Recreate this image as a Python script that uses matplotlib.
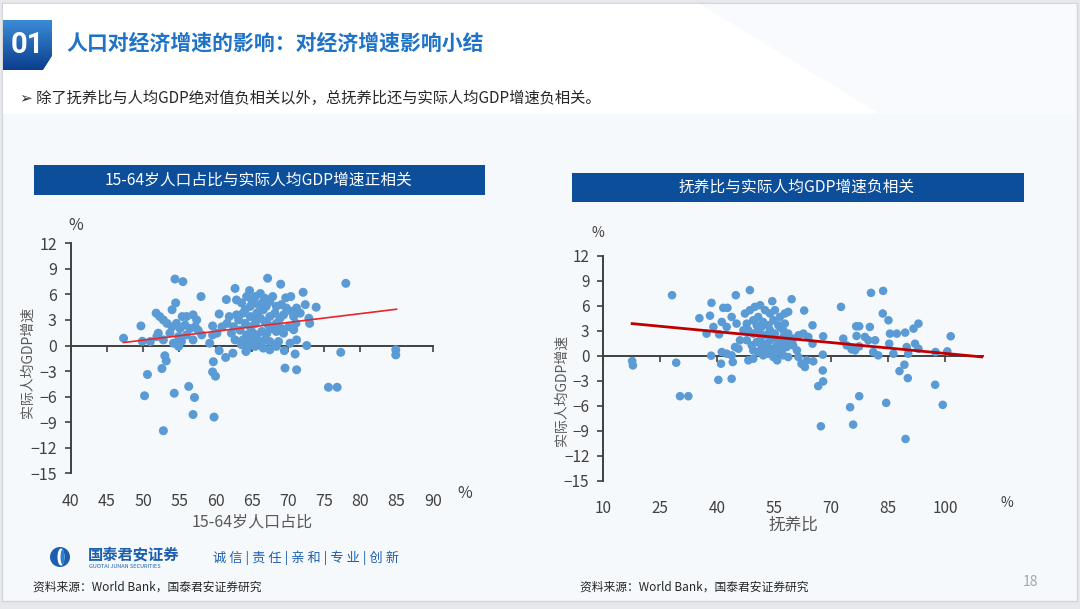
import numpy as np
import matplotlib
matplotlib.use("Agg")
import matplotlib.pyplot as plt
from matplotlib.patches import Rectangle, Polygon, Circle, Ellipse

plt.rcParams['font.family'] = ['Noto Sans CJK SC', 'DejaVu Sans']

# ---- data: 15-64 share of population (%) vs real GDP per capita growth (%)
work_share = [47.3, 49.7, 49.9, 50.6, 50.2, 51.8, 52.1, 52.6, 52.8, 53.0, 53.2, 54.0,
              54.4, 55.5, 54.5, 54.3, 55.4, 56.9, 56.3, 57.1, 56.9, 58.0, 59.7, 59.6,
              60.0, 59.8, 59.6, 60.5, 60.5, 61.4, 62.4, 62.7, 61.5, 64.7, 67.2, 69.0,
              72.1, 72.4, 73.9, 70.4, 69.7, 72.6, 71.0, 69.5, 69.6, 71.2, 77.3, 78.0,
              75.6, 76.8, 84.9, 84.9, 73.0, 72.9, 71.1,
              52.3, 52.8, 53.3, 54.0, 54.6, 55.1, 55.8, 56.5, 57.2, 57.6, 53.7, 54.9,
              56.0, 56.9, 54.2, 55.3, 54.9, 51.9, 52.8, 51.0, 57.4, 56.0, 58.1, 59.2,
              59.6, 60.2, 60.9, 61.6,
              62.9, 63.6, 64.1, 64.8, 65.5, 66.2, 66.8, 67.5, 68.4, 69.1, 69.8, 70.5,
              71.2, 71.7, 70.8, 69.4, 68.2, 66.6, 65.7, 64.8, 63.8, 63.2, 62.5, 62.2,
              62.7, 63.4, 64.1, 64.8, 65.5, 66.2, 66.8, 67.5, 68.4, 69.1, 70.1, 69.4,
              68.4, 67.8, 67.1, 66.4, 65.7, 65.0, 64.3, 63.8, 64.5, 65.2, 66.1, 66.8,
              67.5, 68.7, 64.3, 65.5, 66.6, 67.5, 68.4, 63.6, 64.8, 65.9, 67.0, 67.9,
              65.0, 64.3, 66.6, 65.5, 67.3, 68.9, 70.8, 71.2, 70.3, 62.9, 61.9, 64.2]
growth_l = [0.86, 2.3, 0.5, -3.4, -5.9, 3.8, 1.45, -2.7, -10.0, -1.2, -1.8, 4.2,
            7.8, 7.5, 5.0, -5.6, 3.4, 3.6, -4.8, -6.1, -8.1, 5.75, -1.9, -3.1,
            -3.6, -8.4, 2.3, 3.7, -0.6, -1.4, -0.9, 6.7, 5.4, 6.45, 7.9, 7.2,
            6.25, 4.8, 4.5, 5.75, 5.6, 0.0, -1.0, -0.6, -2.65, -2.85, -0.8, 7.3,
            -4.9, -4.9, -0.5, -1.1, 2.6, 3.2, 2.6,
            3.4, 3.0, 2.6, 2.2, 2.6, 2.0, 2.4, 2.0, 2.2, 1.8, 1.45, 1.05,
            1.25, 0.66, 0.27, 0.47, -0.1, 1.05, 0.66, 0.47, 3.0, 3.4, 1.25, 0.27,
            1.25, 1.45, 2.2, 2.6,
            5.35, 5.0, 4.2, 4.6, 5.75, 6.1, 5.55, 5.15, 4.6, 4.8, 4.4, 4.0,
            4.4, 3.8, 3.4, 3.6, 3.8, 4.2, 3.8, 3.4, 3.8, 3.0, 2.2, 1.45,
            0.66, 1.8, 2.6, 2.2, 2.6, 3.2, 2.8, 3.4, 2.6, 2.0, 2.2, 1.45,
            1.65, 2.0, 1.45, 1.65, 1.25, 1.65, 1.25, 0.66, 0.47, 0.66, 0.47, 0.66,
            0.47, 0.47, -0.5, -0.1, -0.3, -0.5, -0.1, 0.1, 0.1, 4.8, 4.6, 5.75,
            5.35, 5.75, 5.15, 3.2, 2.4, 3.2, 1.85, 0.66, 0.27, 3.6, 3.4, -0.7]
trend_l_x = [47.3, 85.0]
trend_l_y = [0.35, 4.26]

# ---- data: dependency ratio (%) vs real GDP per capita growth (%)
dep_ratio = [17.6, 17.8, 28.1, 29.2, 30.2, 32.4, 35.3, 37.2, 38.1, 38.5, 38.4, 40.3,
             41.0, 43.8, 44.1, 44.9, 48.6, 41.6, 42.7, 54.5, 59.6, 62.9, 65.1, 65.3,
             66.6, 67.9, 67.8, 67.3, 67.9, 67.8, 72.6, 73.2, 75.0, 75.8, 77.4, 80.5,
             83.7, 83.6, 84.5, 85.1, 89.6, 88.0, 89.3, 90.2, 97.4, 99.4, 101.5, 100.6,
             97.5, 93.0, 91.7, 89.5, 87.3, 85.5, 85.3, 86.4, 89.9, 92.1, 93.0, 90.3,
             81.1, 82.4, 80.2, 77.4, 76.6, 76.7, 78.9, 81.6, 79.8, 75.4, 76.3, 74.1, 77.4,
             39.0, 40.5, 41.2, 42.5, 43.8, 45.1, 41.2, 42.5, 43.8, 44.7, 46.0, 46.9,
             47.8, 48.2, 49.5, 45.6,
             47.3, 48.6, 49.9, 51.3, 52.6, 53.9, 55.2, 56.5, 57.8, 58.7, 49.5, 50.8,
             52.1, 53.5, 54.8, 56.1, 57.4, 58.7, 60.0, 61.4, 62.7, 64.0, 65.1, 48.2,
             49.5, 50.8, 52.1, 53.5, 54.8, 56.1, 57.4, 58.7, 60.0, 47.8, 49.1, 50.4,
             51.7, 53.0, 54.3, 55.7, 57.0, 58.3, 50.8, 52.1, 53.5, 54.8, 55.8, 57.4,
             58.7, 61.4, 62.2, 63.1, 63.6, 61.0, 51.7, 50.4, 53.9, 55.2, 56.5, 57.8,
             51.3, 53.9, 52.6, 54.8, 57.4, 49.5, 56.1]
growth_r = [-0.64, -1.16, 7.26, -0.84, -4.86, -4.86, 4.5, 2.65, 4.8, 6.34, 0.0, -2.9,
            -0.96, -2.77, -0.76, 7.26, 7.87, 5.74, 5.74, 6.54, 6.78, 5.42, 3.65, -0.68,
            -3.65, -3.09, -1.77, -8.47, 2.33, 0.12, 5.86, 2.05, -6.18, -8.27, -4.86, 7.54,
            7.78, 5.06, -5.66, 4.25, -9.99, -1.85, -1.08, -2.69, -3.49, -5.9, 2.33, 0.52,
            0.44, 3.85, 3.25, 2.77, 2.65, 2.65, 1.44, 0.24, 1.04, 1.44, 0.84, 0.24,
            0.44, 0.04, 3.45, 3.53, 3.53, 2.37, 2.25, 1.85, 1.85, 0.76, 0.64, 1.24, 1.12,
            3.45, 2.57, 4.05, 3.45, 4.65, 3.85, 0.44, 0.24, 0.04, 1.04, 1.85, 3.05,
            3.85, -0.56, -0.36, 0.84,
            5.06, 5.46, 5.86, 6.06, 5.46, 5.06, 5.46, 4.65, 5.06, 5.26, 4.25, 4.65,
            4.05, 3.65, 4.25, 3.65, 3.05, 2.65, 2.05, 2.45, 2.65, 2.25, 1.44, 3.05,
            2.65, 3.05, 2.45, 2.65, 2.25, 1.85, 2.25, 1.65, 1.24, 1.85, 1.24, 1.65,
            1.04, 1.44, 0.84, 1.24, 0.64, 1.04, 0.44, 0.04, 0.24, -0.16, -0.56, 0.04,
            -0.16, -0.16, -0.96, -1.36, -0.56, 0.64, 3.45, 3.65, 3.05, 2.65, 3.45, 3.85,
            1.85, 1.85, 0.64, 0.44, 1.44, 0.64, 0.44]
trend_r_x = [17.6, 110.0]
trend_r_y = [3.85, -0.16]

y_ticks = list(range(-15, 13, 3))
x_ticks_l = list(range(40, 91, 5))
x_ticks_r = list(range(10, 101, 15))

W, H = 1080, 609
dot_col = "#5B9BD5"
axis_col = "#404040"
txt_col = "#404040"
navy = "#0C4E9A"

fig = plt.figure(figsize=(W / 100, H / 100), dpi=100)
fig.patch.set_facecolor("#E6E8EB")

# background canvas in pixel coordinates
bg = fig.add_axes([0, 0, 1, 1])
bg.set_xlim(0, W); bg.set_ylim(H, 0); bg.axis("off")
bg.add_patch(Rectangle((2, 3), 1075, 598, facecolor="#F6F9FC", edgecolor="#D3D7DC", lw=1))
bg.add_patch(Rectangle((3, 4), 1073, 110, facecolor="#FFFFFF", edgecolor="none"))
bg.add_patch(Polygon([(700, 4), (1076, 4), (1076, 114), (880, 114)], facecolor="#F8FAFD", edgecolor="none"))

# header badge with gradient
badge = Polygon([(3, 20), (52, 20), (52, 56), (43, 70), (3, 70)], closed=True, facecolor="none", edgecolor="none")
bg.add_patch(badge)
grad = np.linspace(0, 1, 64).reshape(-1, 1) * np.ones((1, 64))
im = bg.imshow(grad, extent=(3, 52, 70, 20), cmap=matplotlib.colors.LinearSegmentedColormap.from_list(
    "b", ["#3A8BD6", "#0B3F8E"]), aspect="auto", zorder=2)
im.set_clip_path(badge)
bg.set_xlim(0, W); bg.set_ylim(H, 0)
bg.text(27, 45, "01", color="white", fontsize=21, fontweight="bold", ha="center", va="center",
        family=["Roboto", "DejaVu Sans"], zorder=3)
bg.text(66, 43, "人口对经济增速的影响：对经济增速影响小结", color="#1E73C8", fontsize=15,
        fontweight="bold", ha="left", va="center")
bg.text(20, 98, "➢ 除了抚养比与人均GDP绝对值负相关以外，总抚养比还与实际人均GDP增速负相关。",
        color="#262626", fontsize=11, ha="left", va="center", family=["Noto Sans CJK SC", "DejaVu Sans"])

# chart title banners
bg.add_patch(Rectangle((34, 165), 451, 30, facecolor=navy, edgecolor="none"))
bg.text(259, 180, "15-64岁人口占比与实际人均GDP增速正相关", color="white", fontsize=11.3,
        ha="center", va="center")
bg.add_patch(Rectangle((572, 173), 452, 29, facecolor=navy, edgecolor="none"))
bg.text(797, 187, "抚养比与实际人均GDP增速负相关", color="white", fontsize=11.3,
        ha="center", va="center")


def px_axes(x0, y0, x1, y1):
    return fig.add_axes([x0 / W, 1 - y1 / H, (x1 - x0) / W, (y1 - y0) / H])


def style_chart(ax, xlim, xticks, fs):
    ax.set_xlim(*xlim); ax.set_ylim(-15, 12)
    ax.set_xticks(xticks); ax.set_yticks(y_ticks)
    ax.patch.set_alpha(0)
    for s in ("top", "right"):
        ax.spines[s].set_visible(False)
    for s in ("left", "bottom"):
        ax.spines[s].set_color(axis_col); ax.spines[s].set_linewidth(1.4)
    ax.spines["bottom"].set_position(("data", 0))
    ax.tick_params(axis="x", direction="out", length=4, width=1.2, color=axis_col, labelbottom=False)
    ax.tick_params(axis="y", direction="out", length=4, width=1.2, color=axis_col,
                   labelsize=fs, labelcolor=txt_col, pad=6)
    sec = ax.secondary_xaxis("bottom")
    sec.set_xticks(xticks)
    sec.spines["bottom"].set_visible(False)
    sec.tick_params(length=0, labelsize=fs, labelcolor=txt_col, pad=14)


# left chart
axl = px_axes(70.7, 243.3, 432.7, 473.3)
style_chart(axl, (40, 90), x_ticks_l, 11.5)
axl.scatter(work_share, growth_l, s=42, color=dot_col, edgecolors="none", zorder=3)
axl.plot(trend_l_x, trend_l_y, color="#E8262A", lw=1.2, zorder=4)
bg.text(76, 226, "%", fontsize=11.5, color=txt_col, ha="center", va="center")
bg.text(465, 494, "%", fontsize=11.5, color=txt_col, ha="center", va="center")
bg.text(252, 522, "15-64岁人口占比", fontsize=11.5, color="#595959", ha="center", va="center")
bg.text(28, 362, "实际人均GDP增速", fontsize=10, color="#595959", ha="center", va="center", rotation=90)

# right chart
axr = px_axes(603.3, 255.7, 983, 480.7)
style_chart(axr, (10, 110), x_ticks_r, 11)
axr.scatter(dep_ratio, growth_r, s=38, color=dot_col, edgecolors="none", zorder=3)
axr.plot(trend_r_x, trend_r_y, color="#C00000", lw=2.0, zorder=4)
bg.text(598, 233, "%", fontsize=10, color=txt_col, ha="center", va="center")
bg.text(1007, 503, "%", fontsize=10, color=txt_col, ha="center", va="center")
bg.text(793, 525, "抚养比", fontsize=12, color="#595959", ha="center", va="center")
bg.text(562, 391, "实际人均GDP增速", fontsize=10, color="#595959", ha="center", va="center", rotation=90)

# footer
bg.add_patch(Circle((60, 557), 10, facecolor="#1D5FAE", edgecolor="none"))
bg.add_patch(Ellipse((61, 557), 7, 17, facecolor="white", edgecolor="none"))
bg.add_patch(Ellipse((62.5, 557), 4, 15, facecolor="#2E7FD0", edgecolor="none"))
bg.text(88, 554, "国泰君安证券", fontsize=11, color="#1D5FAE", fontweight="bold", ha="left", va="center")
bg.text(89, 567, "GUOTAI JUNAN SECURITIES", fontsize=4, color="#1D5FAE", ha="left", va="center")
bg.text(213, 558, "诚 信 | 责 任 | 亲 和 | 专 业 | 创 新", fontsize=9.5, color="#1D5FAE",
        ha="left", va="center")
bg.text(33, 587, "资料来源：World Bank，国泰君安证券研究", fontsize=8.5, color="#262626", ha="left", va="center")
bg.text(580, 587, "资料来源：World Bank，国泰君安证券研究", fontsize=8.5, color="#262626", ha="left", va="center")
bg.text(1030, 582, "18", fontsize=10, color="#A6A6A6", ha="center", va="center")

fig.savefig("out.png", dpi=100, facecolor=fig.get_facecolor())
